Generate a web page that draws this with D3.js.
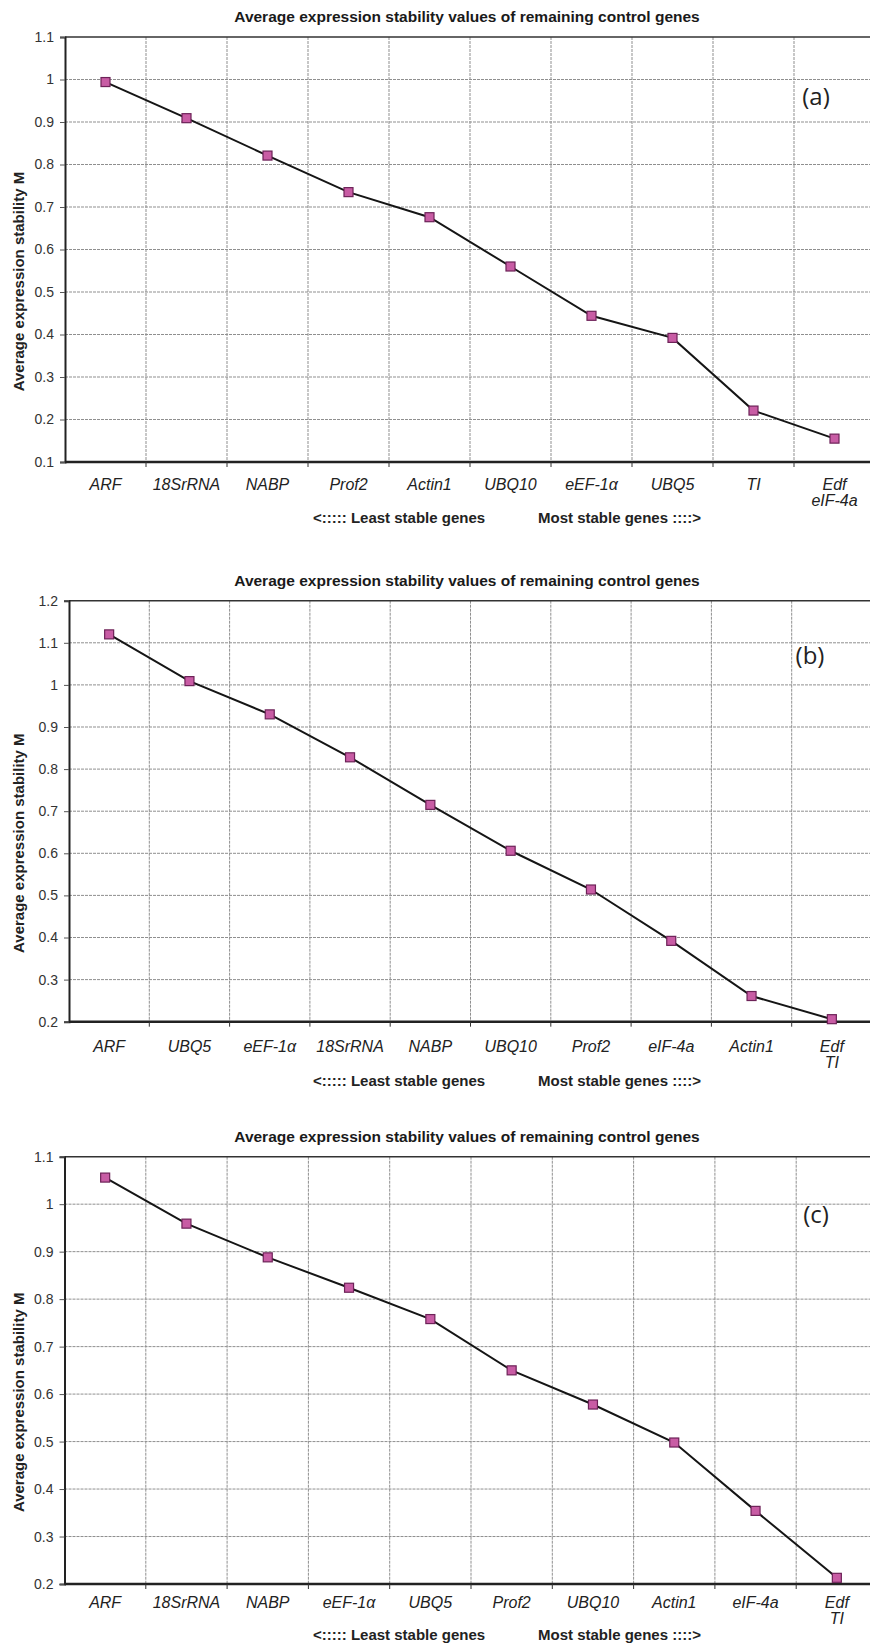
<!DOCTYPE html>
<html>
<head>
<meta charset="utf-8">
<script src="https://cdn.jsdelivr.net/npm/d3@7"></script>
<style>
  body { margin: 0; background: #fff; }
  svg { display: block; font-family: "Liberation Sans", Arial, sans-serif; }
</style>
</head>
<body>
<div id="chart"></div>
<script>
// Panel (a)
const genesA = ["ARF", "18SrRNA", "NABP", "Prof2", "Actin1", "UBQ10", "eEF-1α", "UBQ5", "TI", "Edf\neIF-4a"];
const valuesA = [0.994, 0.909, 0.821, 0.735, 0.676, 0.56, 0.444, 0.392, 0.221, 0.155];
const ticksA = [0.1, 0.2, 0.3, 0.4, 0.5, 0.6, 0.7, 0.8, 0.9, 1, 1.1];

// Panel (b)
const genesB = ["ARF", "UBQ5", "eEF-1α", "18SrRNA", "NABP", "UBQ10", "Prof2", "eIF-4a", "Actin1", "Edf\nTI"];
const valuesB = [1.12, 1.009, 0.93, 0.828, 0.715, 0.606, 0.514, 0.392, 0.261, 0.206];
const ticksB = [0.2, 0.3, 0.4, 0.5, 0.6, 0.7, 0.8, 0.9, 1, 1.1, 1.2];

// Panel (c)
const genesC = ["ARF", "18SrRNA", "NABP", "eEF-1α", "UBQ5", "Prof2", "UBQ10", "Actin1", "eIF-4a", "Edf\nTI"];
const valuesC = [1.056, 0.959, 0.888, 0.824, 0.758, 0.65, 0.578, 0.498, 0.354, 0.213];
const ticksC = [0.2, 0.3, 0.4, 0.5, 0.6, 0.7, 0.8, 0.9, 1, 1.1];

const TITLE = "Average expression stability values of remaining control genes";
const Y_TITLE = "Average expression stability M";

const svg = d3.select("#chart")
  .append("svg")
  .attr("width", 870)
  .attr("height", 1648);

svg.append("rect").attr("width", 870).attr("height", 1648).attr("fill", "#fff");

/**
 * Draw one stability panel
 */
function drawPanel(genes, values, ticks, lay) {
  const g = svg.append("g");
  const right = lay.left + lay.band * genes.length;

  const x = d3.scaleBand()
    .domain(genes)
    .range([lay.left, right])
    .padding(0);

  const y = d3.scaleLinear()
    .domain([d3.min(ticks), d3.max(ticks)])
    .range([lay.bottom, lay.top]);

  // Title
  g.append("text")
    .attr("x", 467)
    .attr("y", y(d3.max(ticks)) - 15)
    .attr("text-anchor", "middle")
    .style("font-size", "15.5px")
    .style("font-weight", "bold")
    .style("fill", "#1a1a1a")
    .text(TITLE);

  // Horizontal grid
  g.append("g")
    .selectAll("line")
    .data(ticks.slice(1, -1))
    .enter()
    .append("line")
    .attr("x1", lay.left)
    .attr("x2", right)
    .attr("y1", (d) => y(d))
    .attr("y2", (d) => y(d))
    .attr("stroke", "#8f8f8f")
    .attr("stroke-width", 1)
    .attr("stroke-dasharray", "3,1");

  // Vertical grid at band boundaries
  g.append("g")
    .selectAll("line")
    .data(genes.slice(1))
    .enter()
    .append("line")
    .attr("x1", (d) => x(d))
    .attr("x2", (d) => x(d))
    .attr("y1", lay.top)
    .attr("y2", lay.bottom)
    .attr("stroke", "#8f8f8f")
    .attr("stroke-width", 1)
    .attr("stroke-dasharray", "3,1");

  // Top border
  g.append("line")
    .attr("x1", lay.left).attr("x2", right)
    .attr("y1", lay.top).attr("y2", lay.top)
    .attr("stroke", "#333").attr("stroke-width", 1.5);

  // Y axis
  const yAxis = d3.axisLeft(y)
    .tickValues(ticks)
    .tickSize(5)
    .tickFormat(d3.format("~g"));

  const ya = g.append("g")
    .attr("transform", `translate(${lay.left},0)`)
    .call(yAxis);
  ya.select(".domain").attr("stroke", "#222").attr("stroke-width", 2);
  ya.selectAll(".tick line").attr("stroke", "#555");
  ya.selectAll(".tick text")
    .attr("x", -11)
    .style("font-size", "14px")
    .style("fill", "#333")
    .style("font-family", "Liberation Sans, Arial, sans-serif");

  // X axis line and boundary ticks
  g.append("line")
    .attr("x1", lay.left).attr("x2", right)
    .attr("y1", lay.bottom).attr("y2", lay.bottom)
    .attr("stroke", "#222").attr("stroke-width", 2.5);

  g.append("g")
    .selectAll("line")
    .data(genes.slice(1))
    .enter()
    .append("line")
    .attr("x1", (d) => x(d))
    .attr("x2", (d) => x(d))
    .attr("y1", lay.bottom)
    .attr("y2", lay.bottom + 5)
    .attr("stroke", "#333");

  // X labels (italic, may be two lines)
  const labels = g.append("g")
    .selectAll("text")
    .data(genes)
    .enter()
    .append("text")
    .attr("x", (d) => x(d) + x.bandwidth() / 2)
    .attr("y", lay.bottom + lay.lab)
    .attr("text-anchor", "middle")
    .style("font-size", "16px")
    .style("font-style", "italic")
    .style("fill", "#222");

  labels.each(function (d) {
    const parts = d.split("\n");
    const t = d3.select(this);
    parts.forEach((p, i) => {
      t.append("tspan")
        .attr("x", x(d) + x.bandwidth() / 2)
        .attr("dy", i === 0 ? 0 : 16)
        .text(p);
    });
  });

  // Stability note
  g.append("text")
    .attr("x", 313)
    .attr("y", lay.bottom + lay.note)
    .style("font-size", "15px")
    .style("font-weight", "bold")
    .style("fill", "#222")
    .text("<:::::  Least stable genes");

  g.append("text")
    .attr("x", 538)
    .attr("y", lay.bottom + lay.note)
    .style("font-size", "15px")
    .style("font-weight", "bold")
    .style("fill", "#222")
    .text("Most stable genes ::::>");

  // Y axis title
  const yc = (lay.top + lay.bottom) / 2 + lay.yShift;
  g.append("text")
    .attr("transform", `translate(24,${yc}) rotate(-90)`)
    .attr("text-anchor", "middle")
    .style("font-size", "15px")
    .style("font-weight", "bold")
    .style("fill", "#222")
    .text(Y_TITLE);

  // Line
  const pts = genes.map((d, i) => [x(d) + x.bandwidth() / 2, y(values[i])]);
  g.append("path")
    .attr("d", d3.line()(pts))
    .attr("fill", "none")
    .attr("stroke", "#151515")
    .attr("stroke-width", 2);

  // Square markers
  g.append("g")
    .selectAll("rect")
    .data(pts)
    .enter()
    .append("rect")
    .attr("x", (d) => d[0] - 4.5)
    .attr("y", (d) => d[1] - 4.5)
    .attr("width", 9)
    .attr("height", 9)
    .attr("fill", "#c85ca4")
    .attr("stroke", "#6d2258")
    .attr("stroke-width", 1.2);

  // Panel tag
  g.append("text")
    .attr("x", lay.tagX)
    .attr("y", lay.tagY)
    .attr("text-anchor", "middle")
    .attr("dominant-baseline", "central")
    .style("font-family", "Open Sans, Noto Sans, sans-serif")
    .style("font-size", "24px")
    .style("fill", "#222")
    .text(lay.tag);
}

drawPanel(genesA, valuesA, ticksA, {
  left: 65, band: 81, top: 37, bottom: 462,
  lab: 28, note: 61, yShift: 32,
  tag: "(a)", tagX: 816, tagY: 95
});

drawPanel(genesB, valuesB, ticksB, {
  left: 69, band: 80.3, top: 600.7, bottom: 1021.7,
  lab: 30, note: 64, yShift: 32,
  tag: "(b)", tagX: 810, tagY: 654
});

drawPanel(genesC, valuesC, ticksC, {
  left: 64.5, band: 81.3, top: 1156.7, bottom: 1584,
  lab: 24, note: 56, yShift: 32,
  tag: "(c)", tagX: 816, tagY: 1213
});
</script>
</body>
</html>
